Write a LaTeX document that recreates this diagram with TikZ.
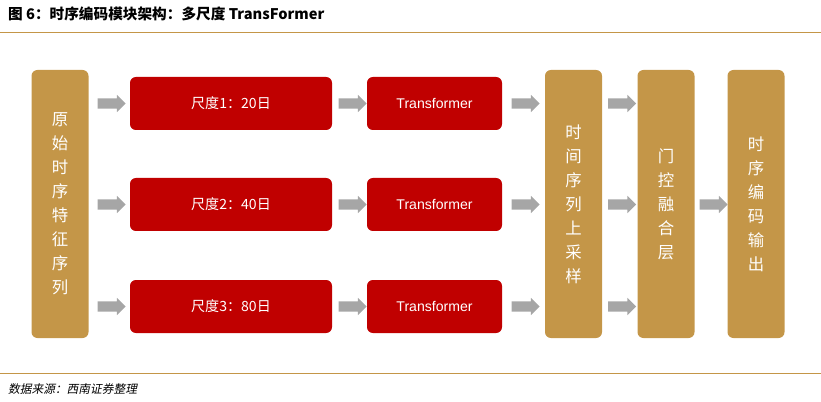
\documentclass[tikz,border=0pt]{standalone}
\usepackage{fontspec}
\setmainfont{Liberation Sans}
\newfontfamily\cjk{Noto Sans CJK SC}
\newfontfamily\cjkslant[FakeSlant=0.2]{Noto Sans CJK SC}
\usetikzlibrary{shapes.arrows, positioning}
\definecolor{gold}{RGB}{196,150,72}
\definecolor{redbox}{RGB}{192,0,0}
\definecolor{arrgray}{RGB}{166,166,166}
\newlength{\px}\setlength{\px}{0.03cm}
\tikzset{
  goldbox/.style={fill=gold, rounded corners=5pt, minimum width=57\px, minimum height=268\px, text=white, font=\cjk\fontsize{14}{20.5}\selectfont, align=center},
  redblock/.style={fill=redbox, rounded corners=5pt, minimum height=53\px, text=white, font=\cjk\fontsize{12}{14}\selectfont},
  grayarrow/.style={single arrow, fill=arrgray, minimum height=28\px, inner xsep=0pt, inner ysep=5\px, single arrow head extend=3.5\px}
}
\begin{document}
\begin{tikzpicture}[x=0.03cm,y=-0.03cm]
\useasboundingbox (0,0) rectangle (821,402);
% title and rules
\node[anchor=west, font=\cjk\bfseries\fontsize{12.5}{14}\selectfont] (title) at (4,14) {图 6：时序编码模块架构：多尺度 \textbf{TransFormer}};
\draw[gold, line width=0.8pt] (0,32) -- (821,32);
\draw[gold, line width=0.8pt] (0,373) -- (821,373);
\node[anchor=west, font=\cjkslant\fontsize{10}{12}\selectfont] (src) at (4,389) {数据来源：西南证券整理};
% tall boxes
\node[goldbox] (inp) at (60,204) {原\\始\\时\\序\\特\\征\\序\\列};
\node[goldbox] (up) at (573.5,204) {时\\间\\序\\列\\上\\采\\样};
\node[goldbox] (gate) at (666,204) {门\\控\\融\\合\\层};
\node[goldbox] (out) at (756,204) {时\\序\\编\\码\\输\\出};
% rows
\foreach \i/\d/\y in {1/20/103.5, 2/40/204.5, 3/80/306.5} {
  \node[redblock, minimum width=202\px] (sc\i) at (231,\y) {尺度\i：\d 日};
  \node[redblock, minimum width=135\px, font=\fontsize{12}{14}\selectfont] (tf\i) at (434.5,\y) {Transformer};
  \node[grayarrow] (a\i) at (109,\y) {};
  \node[grayarrow] (b\i) at (350,\y) {};
  \node[grayarrow] (c\i) at (523,\y) {};
  \node[grayarrow] (d\i) at (619.5,\y) {};
}
\node[grayarrow] (e) at (711,204.5) {};
\end{tikzpicture}
\end{document}
